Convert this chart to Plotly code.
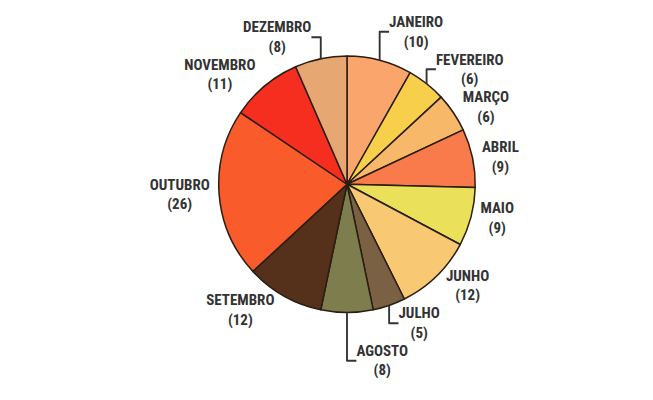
import plotly.graph_objects as go

meses = ["JANEIRO", "FEVEREIRO", "MARÇO", "ABRIL", "MAIO", "JUNHO",
         "JULHO", "AGOSTO", "SETEMBRO", "OUTUBRO", "NOVEMBRO", "DEZEMBRO"]
valores = [10, 6, 6, 9, 9, 12, 5, 8, 12, 26, 11, 8]
cores = ["#F9A56B", "#F8CF4A", "#F8B86A", "#F97B4B", "#EAE05A", "#F8C873",
         "#7A6143", "#7E7D4E", "#55301A", "#FA5B2A", "#F52E20", "#E6A773"]

fig = go.Figure(go.Pie(
    labels=meses,
    values=valores,
    sort=False,
    direction="clockwise",
    rotation=0,
    marker=dict(colors=cores, line=dict(color="#2a1d12", width=1.5)),
    texttemplate="<b>%{label}</b><br><b>(%{value})</b>",
    textposition="outside",
    textfont=dict(family="Roboto Condensed, Roboto, Arial", size=15, color="#333333"),
    hole=0,
    showlegend=False,
    domain=dict(x=[0.05, 0.95], y=[0.25, 1.0]),
))

fig.update_layout(
    width=653, height=400,
    margin=dict(l=10, r=10, t=10, b=10),
    paper_bgcolor="white",
    plot_bgcolor="white",
)

fig.write_html("out.html")
